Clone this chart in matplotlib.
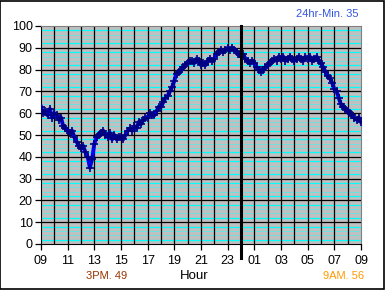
import matplotlib.pyplot as plt
import numpy as np

plt.rcParams['font.family'] = ['Liberation Sans', 'DejaVu Sans']

# readings every 10 minutes, starting 09:00
temp = [63, 60, 61, 59, 62, 58,
        60, 59, 57, 58, 54, 53,
        52, 51, 52, 49, 47, 45,
        44, 45, 42, 40, 35, 39,
        46, 49, 50, 51, 52, 50,
        49, 51, 48, 50, 48, 49,
        49, 48, 50, 52, 53, 52,
        54, 53, 56, 55, 57, 58,
        58, 60, 59, 59, 61, 63,
        63, 65, 67, 68, 70, 72,
        75, 78, 79, 80, 81, 82,
        83, 84, 84, 83, 85, 84,
        82, 83, 82, 84, 85, 84,
        85, 87, 88, 89, 88, 89,
        90, 89, 90, 89, 88, 87,
        86, 87, 85, 84, 83, 84,
        83, 81, 80, 79, 80, 81,
        82, 83, 84, 85, 84, 86,
        85, 86, 84, 85, 86, 85,
        84, 85, 86, 85, 84, 86,
        85, 86, 84, 85, 86, 84,
        83, 81, 79, 77, 76, 74,
        71, 70, 67, 64, 63, 62,
        61, 60, 59, 58, 57, 58,
        56]
hour_labels = ['09', '11', '13', '15', '17', '19', '21', '23',
               '01', '03', '05', '07', '09']
min_text = '24hr-Min. 35'
pm_text = '3PM. 49'
am_text = '9AM. 56'

x = np.arange(len(temp)) / 6.0

fig = plt.figure(figsize=(3.85, 2.90), dpi=100)
ax = fig.add_axes([41/385, 1 - 244/290, 320/385, 218/290])
ax.set_facecolor('#c0c0c0')

# grid
for v in np.arange(2, 100, 2):
    if v % 10 in (2, 8):
        ax.axhline(v, color='#00ffff', lw=0.9, zorder=1)
    elif v % 10:
        ax.axhline(v, color='#70e0e0', lw=0.7, zorder=1)
for v in range(10, 100, 10):
    ax.axhline(v, color='black', lw=0.9, zorder=1)
for h in range(1, 24):
    ax.axvline(h, color='black', lw=0.9, zorder=1)

ax.plot(x, temp, color='#0000ff', lw=2.8, zorder=3)
ax.plot(x, temp, ls='none', marker='+', ms=6, mew=1.2, color='#000080', zorder=4)

# midnight
ax.plot([15, 15], [-6.5, 100], color='black', lw=2.2, clip_on=False, zorder=5)

ax.set_xlim(0, 24)
ax.set_ylim(0, 100)
ax.set_xticks(np.arange(0, 25, 2))
ax.set_xticklabels(hour_labels)
ax.set_yticks(range(0, 101, 10))
ax.tick_params(labelsize=9, length=4, width=0.9, color='black', pad=4)
ax.tick_params(axis='y', pad=2)
for s in ['top', 'right']:
    ax.spines[s].set_color('#808080')
for s in ['left', 'bottom']:
    ax.spines[s].set_color('black')

fig.text(194/385, 1 - 276/290, 'Hour', ha='center', va='center', fontsize=9.5)
fig.text(107/385, 1 - 276/290, pm_text, ha='center', va='center', fontsize=8, color='#993300')
fig.text(364/385, 1 - 276/290, am_text, ha='right', va='center', fontsize=8, color='#ff9900')
fig.text(358/385, 1 - 14/290, min_text, ha='right', va='center', fontsize=8, color='#3355dd')

fig.patches.append(plt.Rectangle((0.001, 0.002), 0.996, 0.995, transform=fig.transFigure,
                                 fill=False, edgecolor='black', lw=1.2))

fig.savefig('out.png', dpi=100)
